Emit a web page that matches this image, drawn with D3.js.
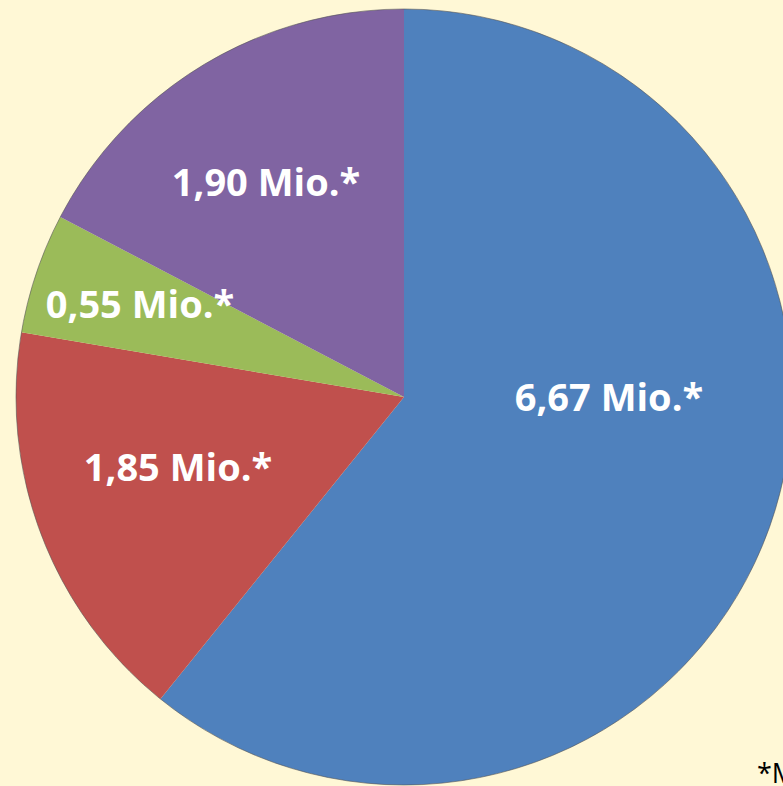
<!DOCTYPE html>
<html>
<head>
<meta charset="utf-8">
<script src="https://cdn.jsdelivr.net/npm/d3@7"></script>
<style>
  body { margin: 0; background: #fff8d6; }
  svg { display: block; }
</style>
</head>
<body>
<div id="chart"></div>
<script>
// data
const labels = ["6,67 Mio.*", "1,85 Mio.*", "0,55 Mio.*", "1,90 Mio.*"];
const values = [6.67, 1.85, 0.55, 1.90];
const colors = ["#4f81bd", "#c0504d", "#9bbb59", "#8064a2"];
// label offsets from pie centre (Excel places them by hand)
const labelOffset = [[205, 1], [-226, 71], [-264, -92], [-138, -214]];

const width = 783, height = 786;
const cx = 404, cy = 397, radius = 388;

const svg = d3.select("#chart").append("svg")
  .attr("width", width)
  .attr("height", height);

svg.append("rect").attr("width", width).attr("height", height).attr("fill", "#fff8d6");

const pie = d3.pie().sort(null).value(d => d);
const arc = d3.arc().innerRadius(0).outerRadius(radius);

const g = svg.append("g").attr("transform", `translate(${cx},${cy})`);

g.selectAll("path")
  .data(pie(values))
  .enter()
  .append("path")
  .attr("d", arc)
  .attr("fill", (d, i) => colors[i]);

// thin outline round the pie
g.append("circle")
  .attr("r", radius)
  .attr("fill", "none")
  .attr("stroke", "#555")
  .attr("stroke-width", 0.6);

g.selectAll("text.lbl")
  .data(labels)
  .enter()
  .append("text")
  .attr("class", "lbl")
  .attr("x", (d, i) => labelOffset[i][0])
  .attr("y", (d, i) => labelOffset[i][1])
  .attr("dy", "0.35em")
  .attr("text-anchor", "middle")
  .attr("fill", "#fff")
  .style("font-family", "'Open Sans', sans-serif")
  .style("font-weight", "bold")
  .style("font-size", "38px")
  .text(d => d);

svg.append("text")
  .attr("x", 757)
  .attr("y", 783)
  .attr("fill", "#000")
  .style("font-family", "'Open Sans', sans-serif")
  .style("font-size", "27px")
  .text("*Mio. = Millionen");
</script>
</body>
</html>
